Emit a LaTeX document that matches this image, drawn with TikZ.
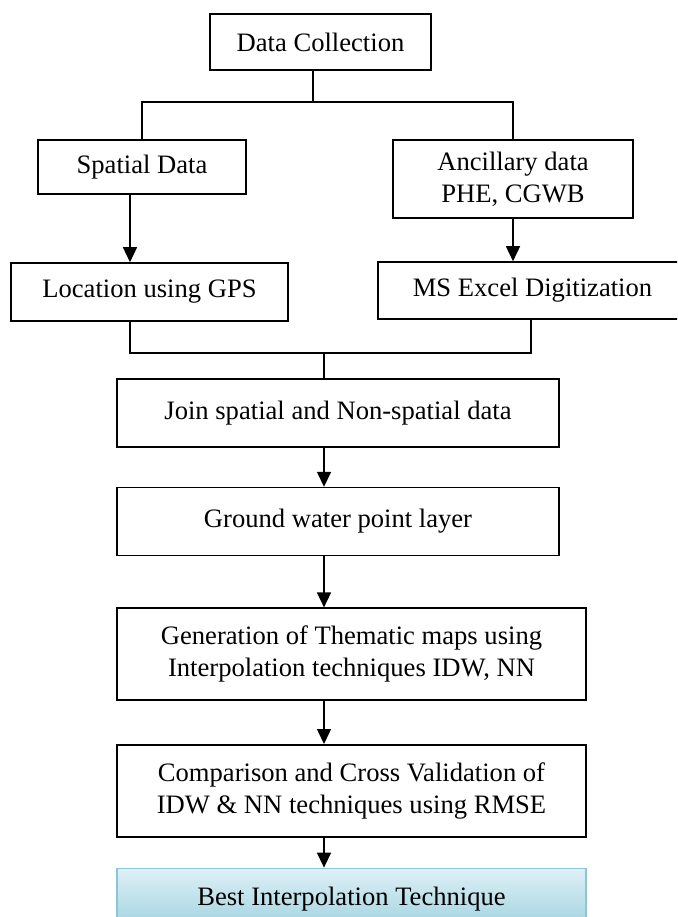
\documentclass[tikz,border=0pt]{standalone}
\usepackage{fontspec}
\setmainfont{Liberation Serif}
\usetikzlibrary{positioning,arrows.meta}

\definecolor{bestlight}{RGB}{222,240,246}
\definecolor{bestdark}{RGB}{160,210,223}
\definecolor{bestedge}{RGB}{140,198,214}

\begin{document}
\begin{tikzpicture}[
        x=1pt, y=-1pt,
        font=\fontsize{26.6}{32}\selectfont,
        box/.style={
            rectangle,
            draw=black,
            line width=1.6pt,
            inner sep=0pt,
            align=center,
        },
        mid/.style={
            minimum width=442pt,
            minimum height=68pt,
        },
        wide/.style={
            minimum width=469pt,
            minimum height=92pt,
        },
        best/.style={
            draw=bestedge,
            top color=bestlight,
            bottom color=bestdark,
            minimum height=62pt,
        },
        line/.style={
            line width=1.5pt,
        },
        arrow/.style={
            line width=1.5pt,
            -{Triangle[length=15pt,width=14pt]},
        },
    ]
        \useasboundingbox (0,0) rectangle (677,917);
        \clip (0,0) rectangle (677,917);

        \node [box, minimum width=221pt, minimum height=56pt] (collect) at (320.5,42) {Data Collection};

        \node [box, minimum width=208pt, minimum height=54pt] (spatial) at (142,167) {Spatial Data};
        \node [box, minimum width=240pt, minimum height=78pt] (ancillary) at (513,179) {Ancillary data\\PHE, CGWB};

        \node [box, minimum width=277pt, minimum height=58pt] (location) at (149.5,292) {Location using GPS};
        \node [box, minimum width=309pt, minimum height=57pt] (excel) at (532.5,290.5) {MS Excel Digitization};

        \node [box, mid] (join) at (338,413) {Join spatial and Non-spatial data};
        \node [box, mid, below=39pt of join] (ground) {Ground water point layer};

        \node [box, wide, below right=51pt and 0pt of ground.south west] (gen) {Generation of Thematic maps using\\Interpolation techniques IDW, NN};
        \node [box, wide, below=43pt of gen] (comp) {Comparison and Cross Validation of\\IDW \& NN techniques using RMSE};
        \node [box, wide, best, below=30pt of comp] (bestnode) {Best Interpolation Technique};

        % fork and merge points
        \coordinate (fork) at (313,102);
        \coordinate (merge) at (324,353);
        \coordinate (leftx) at (130,0);
        \coordinate (rightx) at (531,0);

        \draw [line] (collect.south -| fork) -- (fork);
        \draw [line] (spatial.north) |- (fork) -| (ancillary.north);

        \draw [arrow] (spatial.south -| leftx) -- (location.north -| leftx);
        \draw [arrow] (ancillary.south) -- (excel.north -| ancillary.south);

        \draw [line] (location.south -| leftx) |- (merge) -| (excel.south -| rightx);
        \draw [line] (merge) -- (join.north -| merge);

        \draw [arrow] (join.south -| merge) -- (ground.north -| merge);
        \draw [arrow] (ground.south -| merge) -- (gen.north -| merge);
        \draw [arrow] (gen.south -| merge) -- (comp.north -| merge);
        \draw [arrow] (comp.south -| merge) -- (bestnode.north -| merge);
\end{tikzpicture}
\end{document}
